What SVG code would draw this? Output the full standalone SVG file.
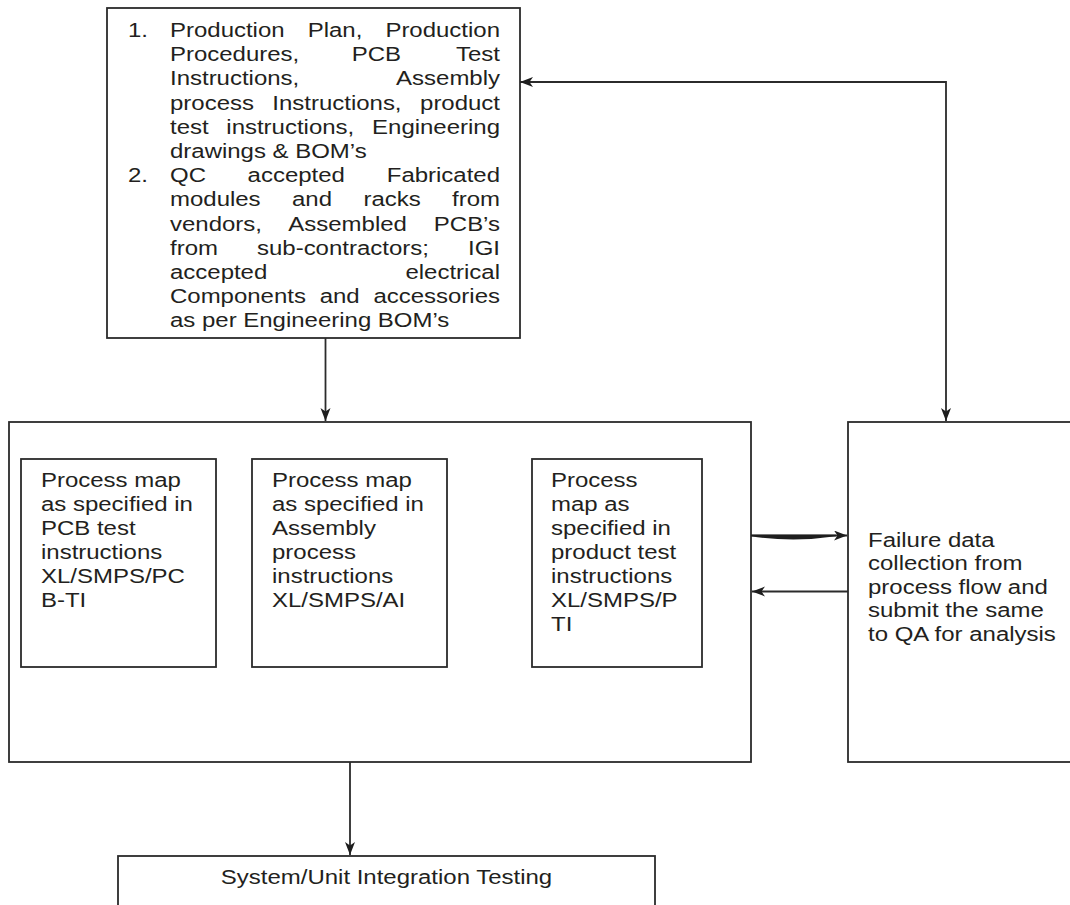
<svg xmlns="http://www.w3.org/2000/svg" width="1070" height="905" viewBox="0 0 1070 905">
<style>
.box{fill:#fff;stroke:#2b2b2b;stroke-width:1.8}
.ln{fill:none;stroke:#2b2b2b;stroke-width:1.8}
.t{font-family:"Liberation Sans",Arial,Helvetica,sans-serif;font-size:19.5px;fill:#231f20}
.e{text-anchor:end}
.m{text-anchor:middle}
</style>
<defs>
<marker id="ah" markerUnits="userSpaceOnUse" markerWidth="14" markerHeight="11" refX="13" refY="5" orient="auto-start-reverse">
<path d="M0,0 L13,5 L0,10 L3.5,5 z" fill="#1e1e1e"/>
</marker>
</defs>
<rect width="1070" height="905" fill="#fff"/>

<g id="node-inputs">
<rect class="box" x="107" y="8" width="413" height="330"/>
<text class="t" transform="translate(128,37) scale(1.23,1)">1.</text>
<text class="t" transform="translate(170,37) scale(1.23,1)">Production</text>
<text class="t" transform="translate(307.7,37) scale(1.23,1)">Plan,</text>
<text class="t e" transform="translate(500,37) scale(1.23,1)">Production</text>
<text class="t" transform="translate(170,61.2) scale(1.23,1)">Procedures,</text>
<text class="t" transform="translate(351.7,61.2) scale(1.23,1)">PCB</text>
<text class="t e" transform="translate(500,61.2) scale(1.23,1)">Test</text>
<text class="t" transform="translate(170,85.4) scale(1.23,1)">Instructions,</text>
<text class="t e" transform="translate(500,85.4) scale(1.23,1)">Assembly</text>
<text class="t" transform="translate(170,109.6) scale(1.23,1)">process</text>
<text class="t" transform="translate(272.3,109.6) scale(1.23,1)">Instructions,</text>
<text class="t e" transform="translate(500,109.6) scale(1.23,1)">product</text>
<text class="t" transform="translate(170,133.8) scale(1.23,1)">test</text>
<text class="t" transform="translate(226.3,133.8) scale(1.23,1)">instructions,</text>
<text class="t e" transform="translate(500,133.8) scale(1.23,1)">Engineering</text>
<text class="t" transform="translate(170,158) scale(1.23,1)">drawings &amp; BOM’s</text>
<text class="t" transform="translate(128,182.2) scale(1.23,1)">2.</text>
<text class="t" transform="translate(170,182.2) scale(1.23,1)">QC</text>
<text class="t" transform="translate(247.6,182.2) scale(1.23,1)">accepted</text>
<text class="t e" transform="translate(500,182.2) scale(1.23,1)">Fabricated</text>
<text class="t" transform="translate(170,206.4) scale(1.23,1)">modules</text>
<text class="t" transform="translate(292,206.4) scale(1.23,1)">and</text>
<text class="t" transform="translate(363.4,206.4) scale(1.23,1)">racks</text>
<text class="t e" transform="translate(500,206.4) scale(1.23,1)">from</text>
<text class="t" transform="translate(170,230.6) scale(1.23,1)">vendors,</text>
<text class="t" transform="translate(288.3,230.6) scale(1.23,1)">Assembled</text>
<text class="t e" transform="translate(500,230.6) scale(1.23,1)">PCB’s</text>
<text class="t" transform="translate(170,254.8) scale(1.23,1)">from</text>
<text class="t" transform="translate(257,254.8) scale(1.23,1)">sub-contractors;</text>
<text class="t e" transform="translate(500,254.8) scale(1.23,1)">IGI</text>
<text class="t" transform="translate(170,279) scale(1.23,1)">accepted</text>
<text class="t e" transform="translate(500,279) scale(1.23,1)">electrical</text>
<text class="t" transform="translate(170,303.2) scale(1.23,1)">Components</text>
<text class="t" transform="translate(319.7,303.2) scale(1.23,1)">and</text>
<text class="t e" transform="translate(500,303.2) scale(1.23,1)">accessories</text>
<text class="t" transform="translate(170,327.4) scale(1.23,1)">as per Engineering BOM’s</text>
</g>

<g id="node-process">
<rect class="box" x="9" y="422" width="742" height="340"/>
</g>

<g id="node-pcb">
<rect class="box" x="21" y="459" width="195" height="208"/>
<text class="t" transform="translate(41,487) scale(1.23,1)"><tspan x="0" y="0">Process map</tspan><tspan x="0" y="24">as specified in</tspan><tspan x="0" y="48">PCB test</tspan><tspan x="0" y="72">instructions</tspan><tspan x="0" y="96">XL/SMPS/PC</tspan><tspan x="0" y="120">B-TI</tspan></text>
</g>

<g id="node-assembly">
<rect class="box" x="252" y="459" width="195" height="208"/>
<text class="t" transform="translate(272,487) scale(1.23,1)"><tspan x="0" y="0">Process map</tspan><tspan x="0" y="24">as specified in</tspan><tspan x="0" y="48">Assembly</tspan><tspan x="0" y="72">process</tspan><tspan x="0" y="96">instructions</tspan><tspan x="0" y="120">XL/SMPS/AI</tspan></text>
</g>

<g id="node-product">
<rect class="box" x="532" y="459" width="170" height="208"/>
<text class="t" transform="translate(551,487) scale(1.23,1)"><tspan x="0" y="0">Process</tspan><tspan x="0" y="24">map as</tspan><tspan x="0" y="48">specified in</tspan><tspan x="0" y="72">product test</tspan><tspan x="0" y="96">instructions</tspan><tspan x="0" y="120">XL/SMPS/P</tspan><tspan x="0" y="144">TI</tspan></text>
</g>

<g id="node-failure">
<rect class="box" x="848" y="422" width="240" height="340"/>
<text class="t" transform="translate(868,547) scale(1.23,1)"><tspan x="0" y="0">Failure data</tspan><tspan x="0" y="23.5">collection from</tspan><tspan x="0" y="47">process flow and</tspan><tspan x="0" y="70.5">submit the same</tspan><tspan x="0" y="94">to QA for analysis</tspan></text>
</g>

<g id="node-integration">
<rect class="box" x="118" y="856" width="537" height="70"/>
<text class="t m" transform="translate(386.5,884) scale(1.23,1)">System/Unit Integration Testing</text>
</g>

<g id="connectors">
<line class="ln" x1="325.5" y1="338" x2="325.5" y2="421" marker-end="url(#ah)"/>
<path class="ln" d="M520,82 H946 V421" marker-start="url(#ah)" marker-end="url(#ah)"/>
<line class="ln" x1="751" y1="535.5" x2="847" y2="535.5" marker-end="url(#ah)"/>
<path d="M751,534.8 L836,534.8 L836,536.3 Q793,542.7 751,536.3 Z" fill="#1e1e1e"/>
<line class="ln" x1="848" y1="591.5" x2="752" y2="591.5" marker-end="url(#ah)"/>
<line class="ln" x1="350" y1="762" x2="350" y2="855" marker-end="url(#ah)"/>
</g>
</svg>
